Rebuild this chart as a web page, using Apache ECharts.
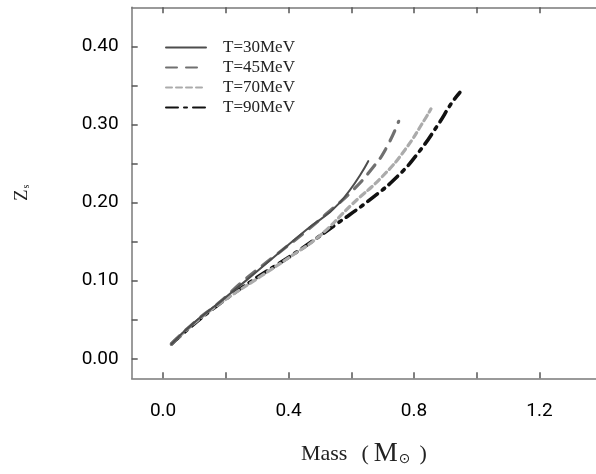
<!DOCTYPE html>
<html>
<head>
<meta charset="utf-8">
<script src="https://cdn.jsdelivr.net/npm/echarts@6/dist/echarts.min.js"></script>
<style>html,body{margin:0;padding:0;background:#fff;}#c{width:596px;height:474px;}</style>
</head>
<body>
<div id="c"></div>
<script>
const seriesNames = ['T=30MeV', 'T=45MeV', 'T=70MeV', 'T=90MeV'];
const massT30 = [0.027, 0.098, 0.182, 0.267, 0.382, 0.456, 0.561, 0.654];
const zsT30   = [0.019, 0.046, 0.073, 0.101, 0.140, 0.165, 0.199, 0.253];
const massT45 = [0.027, 0.098, 0.182, 0.251, 0.319, 0.467, 0.519, 0.603, 0.667, 0.709, 0.751];
const zsT45   = [0.019, 0.046, 0.073, 0.098, 0.120, 0.167, 0.185, 0.215, 0.244, 0.268, 0.304];
const massT70 = [0.027, 0.098, 0.182, 0.309, 0.414, 0.498, 0.603, 0.698, 0.772, 0.835, 0.854];
const zsT70   = [0.019, 0.045, 0.071, 0.105, 0.133, 0.157, 0.198, 0.233, 0.268, 0.307, 0.320];
const massT90 = [0.027, 0.088, 0.182, 0.288, 0.393, 0.456, 0.551, 0.667, 0.751, 0.814, 0.877, 0.919, 0.946];
const zsT90   = [0.019, 0.041, 0.071, 0.101, 0.128, 0.145, 0.172, 0.206, 0.235, 0.264, 0.300, 0.327, 0.341];
const xTickValues = [0, 0.2, 0.4, 0.6, 0.8, 1.0, 1.2];
const xLabelValues = [0, 0.4, 0.8, 1.2];
const yTickValues = [0, 0.05, 0.10, 0.15, 0.20, 0.25, 0.30, 0.35, 0.40];
const yLabelValues = [0, 0.10, 0.20, 0.30, 0.40];

function pairs(xs, ys) { return xs.map((x, i) => [x, ys[i]]); }

const styles = [
  { color: '#4d4d4d', width: 2, type: 'solid' },
  { color: '#707070', width: 3.2, type: [11, 9] },
  { color: '#ababab', width: 3.2, type: [6, 4] },
  { color: '#111111', width: 3.6, type: [12, 6, 3, 6] }
];
const dataSets = [pairs(massT30, zsT30), pairs(massT45, zsT45), pairs(massT70, zsT70), pairs(massT90, zsT90)];

const chart = echarts.init(document.getElementById('c'), null, { renderer: 'canvas' });
const axisLineStyle = { color: '#7a7a7a', width: 1.5 };
const tickStyle = { color: '#555', width: 1.5 };
chart.setOption({
  animation: false,
  backgroundColor: '#ffffff',
  grid: { left: 131.7, top: 7.3, right: -4, bottom: 95.7, containLabel: false },
  legend: {
    orient: 'vertical', left: 160, top: 34,
    itemWidth: 40, itemHeight: 14, itemGap: 3,
    itemStyle: { opacity: 0, color: 'transparent', borderWidth: 0 },
    textStyle: { fontFamily: 'Liberation Serif', fontSize: 17, color: '#222', padding: [0, 0, 0, 12] },
    data: seriesNames
  },
  xAxis: [{
    type: 'value', min: -0.1, max: 1.38,
    name: '{a|Mass}{p|(}{m|M}{s|\u2299}{q|)}',
    nameLocation: 'middle', nameGap: 62,
    nameTextStyle: {
      rich: {
        a: { fontFamily: 'Liberation Serif', fontSize: 22, color: '#222' },
        p: { fontFamily: 'Liberation Serif', fontSize: 22, color: '#222', padding: [0, 5, 0, 14] },
        m: { fontFamily: 'Liberation Serif', fontSize: 27, color: '#222' },
        s: { fontFamily: 'DejaVu Sans', fontSize: 14, color: '#222', padding: [12, 0, 0, 1] },
        q: { fontFamily: 'Liberation Serif', fontSize: 22, color: '#222', padding: [0, 0, 0, 9] }
      }
    },
    axisLine: { show: true, onZero: false, lineStyle: axisLineStyle },
    axisTick: { show: true, inside: true, length: 6, customValues: xTickValues, lineStyle: tickStyle },
    axisLabel: { customValues: xLabelValues, margin: 23, fontFamily: 'Roboto', fontSize: 19, color: '#000',
      formatter: v => v.toFixed(1) },
    splitLine: { show: false }
  }, {
    type: 'value', position: 'top', min: -0.1, max: 1.38,
    axisLine: { show: true, onZero: false, lineStyle: axisLineStyle },
    axisTick: { show: true, inside: true, length: 6, customValues: xTickValues, lineStyle: tickStyle },
    axisLabel: { show: false },
    splitLine: { show: false }
  }],
  yAxis: {
    type: 'value', min: -0.025, max: 0.45,
    name: '{z|Z}{s|s}', nameLocation: 'middle', nameGap: 100, nameRotate: 90,
    nameTextStyle: {
      rich: { z: { fontFamily: 'Liberation Serif', fontSize: 19, color: '#222' },
              s: { fontFamily: 'Liberation Serif', fontSize: 10, color: '#222', padding: [8, 0, 0, 1] } }
    },
    axisLine: { show: true, onZero: false, lineStyle: axisLineStyle },
    axisTick: { show: true, inside: true, length: 6, customValues: yTickValues, lineStyle: tickStyle },
    axisLabel: { customValues: yLabelValues, margin: 13, fontFamily: 'Roboto', fontSize: 19, color: '#000',
      formatter: v => v.toFixed(2) },
    splitLine: { show: false }
  },
  series: seriesNames.map((n, i) => ({
    name: n, type: 'line', data: dataSets[i], smooth: 0.5, symbol: 'none', showSymbol: false,
    xAxisIndex: 0, yAxisIndex: 0,
    z: 10 - i,
    lineStyle: { color: styles[i].color, width: styles[i].width, type: styles[i].type, cap: 'round' },
    itemStyle: { color: styles[i].color }
  }))
});
</script>
</body>
</html>
